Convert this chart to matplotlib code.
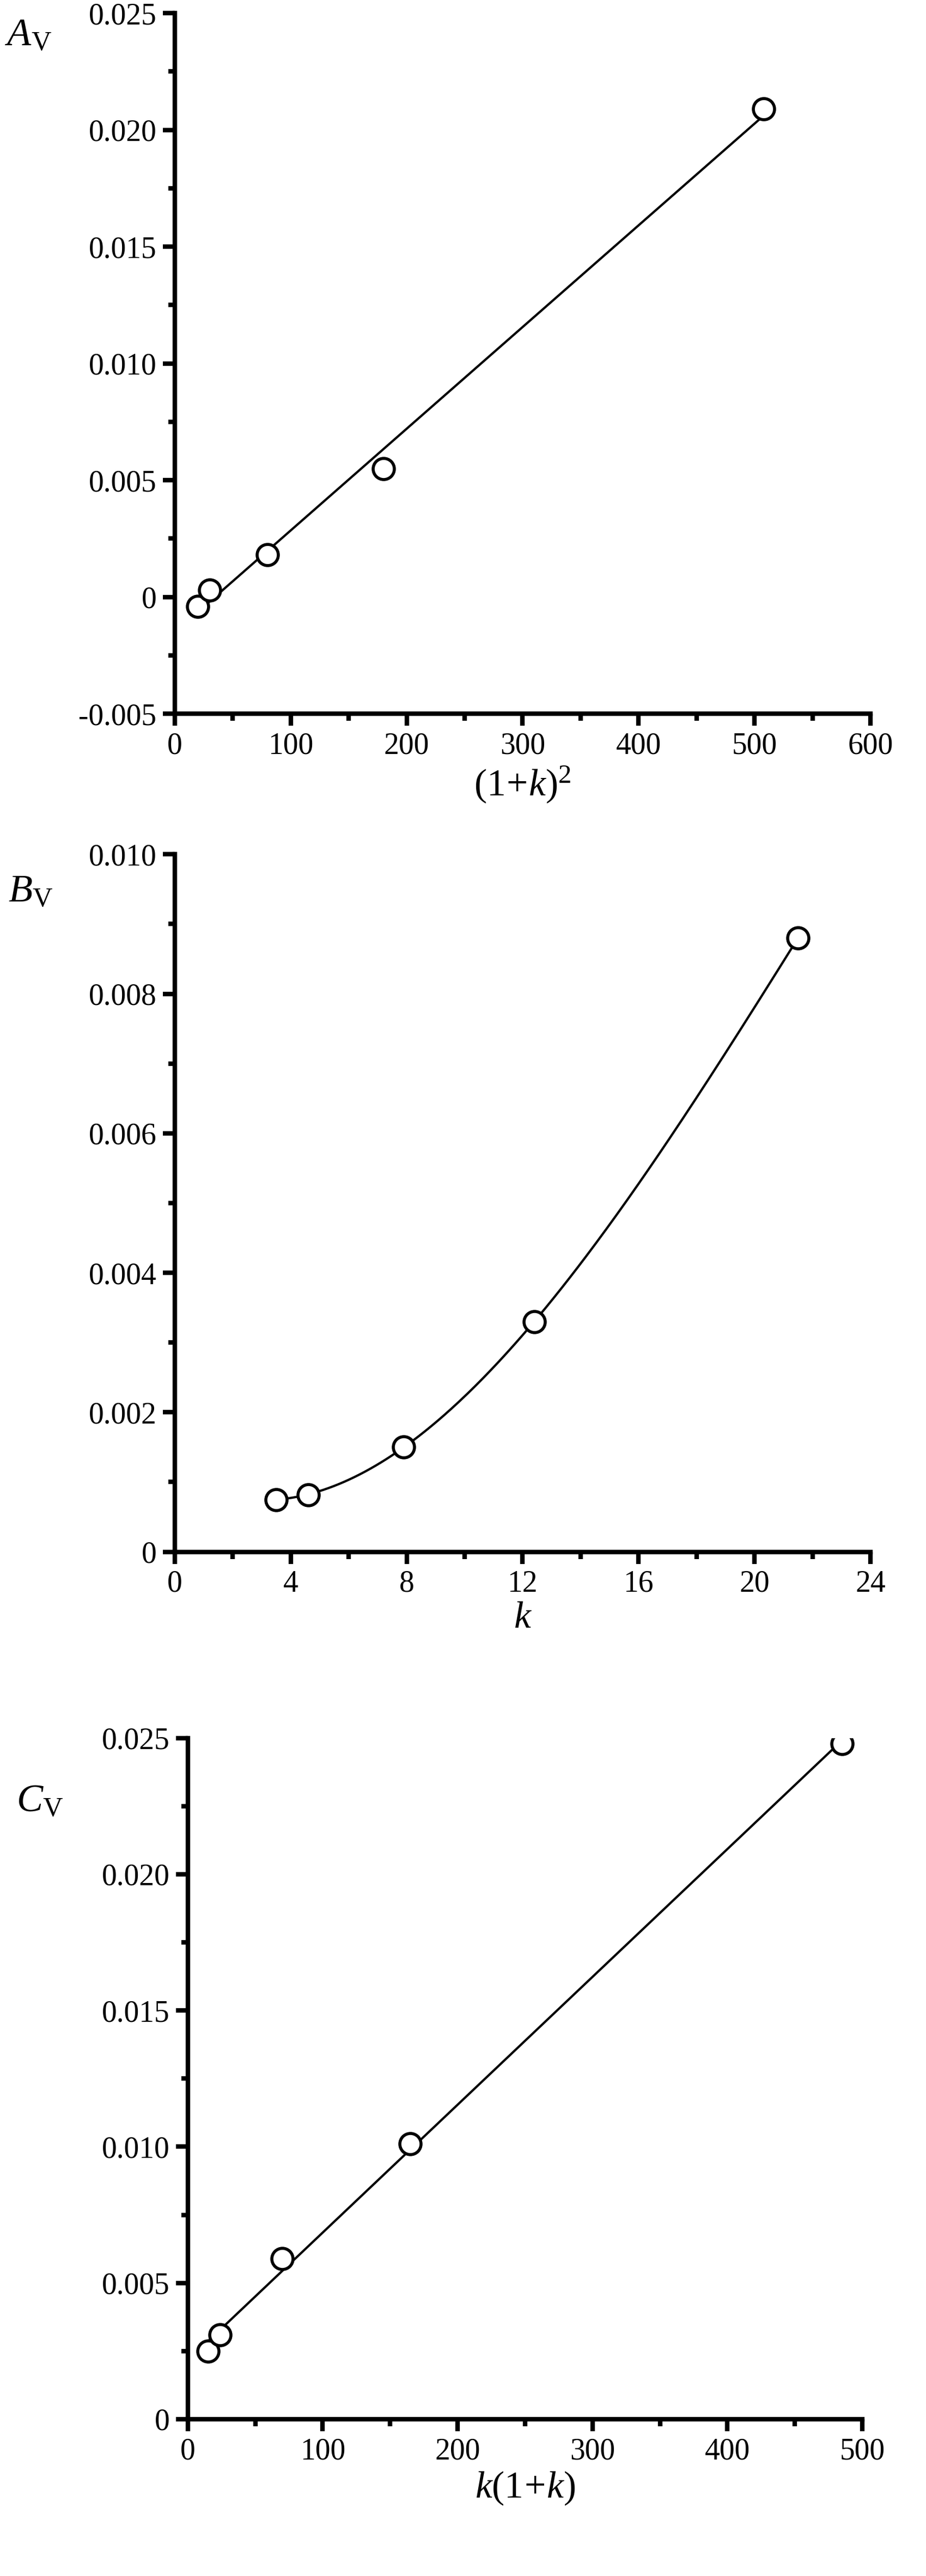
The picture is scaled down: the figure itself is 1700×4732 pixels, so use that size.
import numpy as np
import matplotlib
matplotlib.use("Agg")
import matplotlib.pyplot as plt
from matplotlib.ticker import MultipleLocator, FixedLocator

plt.rcParams['font.family'] = ['Liberation Serif', 'DejaVu Serif']
plt.rcParams['mathtext.fontset'] = 'custom'
plt.rcParams['mathtext.rm'] = 'Liberation Serif'
plt.rcParams['mathtext.it'] = 'Liberation Serif:italic'

# Panel A
xa = [20, 30, 80, 180, 508]
ya = [-0.0004, 0.0003, 0.0018, 0.0055, 0.0209]
# Panel B
xb = [3.5, 4.6, 7.9, 12.4, 21.5]
yb = [0.00075, 0.00082, 0.0015, 0.0033, 0.0088]
# Panel C
xc = [15, 24, 70, 165, 485]
yc = [0.0025, 0.0031, 0.0059, 0.0101, 0.0248]

W, H = 1700, 4732
fig = plt.figure(figsize=(W/100, H/100), dpi=100)
PW, PH = 567, 1577

def make_ax(l, r, t, b):
    return fig.add_axes([l/PW, 1-b/PH, (r-l)/PW, (b-t)/PH])

def style(ax):
    for s in ['top', 'right']:
        ax.spines[s].set_visible(False)
    for s in ['left', 'bottom']:
        ax.spines[s].set_linewidth(6)
    ax.tick_params(which='major', direction='out', length=16, width=6, labelsize=40, pad=8)
    ax.tick_params(which='minor', direction='out', length=9, width=6)

mk = dict(marker='o', ms=28, mfc='white', mec='black', mew=4, ls='none', zorder=3)

# A
ax = make_ax(107, 533, 8, 437)
style(ax)
p = np.polyfit(xa, ya, 1)
xx = np.linspace(xa[0], xa[-1], 100)
ax.plot(xx, np.polyval(p, xx), 'k-', lw=3)
ax.plot(xa, ya, **mk)
ax.set_xlim(0, 600); ax.set_ylim(-0.005, 0.025)
ax.xaxis.set_major_locator(MultipleLocator(100)); ax.xaxis.set_minor_locator(MultipleLocator(50))
ax.yaxis.set_major_locator(MultipleLocator(0.005)); ax.yaxis.set_minor_locator(MultipleLocator(0.0025))
ax.set_yticklabels(['-0.005', '0', '0.005', '0.010', '0.015', '0.020', '0.025'] if False else None) if False else None
ax.yaxis.set_major_formatter(matplotlib.ticker.FuncFormatter(lambda v, _: '0' if abs(v) < 1e-12 else f'{v:.3f}'))
ax.set_xlabel(r'$(1\!+\!k)^2$', fontsize=50, labelpad=6)
fig.text(3/PW, 1-22/PH, r'$A_{\rm V}$', fontsize=52, va='center', ha='left')

# B
ax = make_ax(107, 533, 523, 950)
style(ax)
p = np.polyfit(xb, yb, 3)
xx = np.linspace(xb[0], xb[-1], 200)
ax.plot(xx, np.polyval(p, xx), 'k-', lw=3)
ax.plot(xb, yb, **mk)
ax.set_xlim(0, 24); ax.set_ylim(0, 0.010)
ax.xaxis.set_major_locator(MultipleLocator(4)); ax.xaxis.set_minor_locator(MultipleLocator(2))
ax.yaxis.set_major_locator(MultipleLocator(0.002)); ax.yaxis.set_minor_locator(MultipleLocator(0.001))
ax.yaxis.set_major_formatter(matplotlib.ticker.FuncFormatter(lambda v, _: '0' if abs(v) < 1e-12 else f'{v:.3f}'))
ax.set_xlabel(r'$k$', fontsize=50, labelpad=4)
fig.text(5/PW, 1-546/PH, r'$B_{\rm V}$', fontsize=52, va='center', ha='left')

# C
ax = make_ax(115, 528, 1064, 1481)
style(ax)
p = np.polyfit(xc, yc, 1)
xx = np.linspace(xc[0], xc[-1], 100)
ax.plot(xx, np.polyval(p, xx), 'k-', lw=3)
ax.plot(xc, yc, **mk)
ax.set_xlim(0, 500); ax.set_ylim(0, 0.025)
ax.xaxis.set_major_locator(MultipleLocator(100)); ax.xaxis.set_minor_locator(MultipleLocator(50))
ax.yaxis.set_major_locator(MultipleLocator(0.005)); ax.yaxis.set_minor_locator(MultipleLocator(0.0025))
ax.yaxis.set_major_formatter(matplotlib.ticker.FuncFormatter(lambda v, _: '0' if abs(v) < 1e-12 else f'{v:.3f}'))
ax.set_xlabel(r'$k(1\!+\!k)$', fontsize=50, labelpad=6)
fig.text(10/PW, 1-1103/PH, r'$C_{\rm V}$', fontsize=52, va='center', ha='left')

fig.savefig('out.png', dpi=100)
